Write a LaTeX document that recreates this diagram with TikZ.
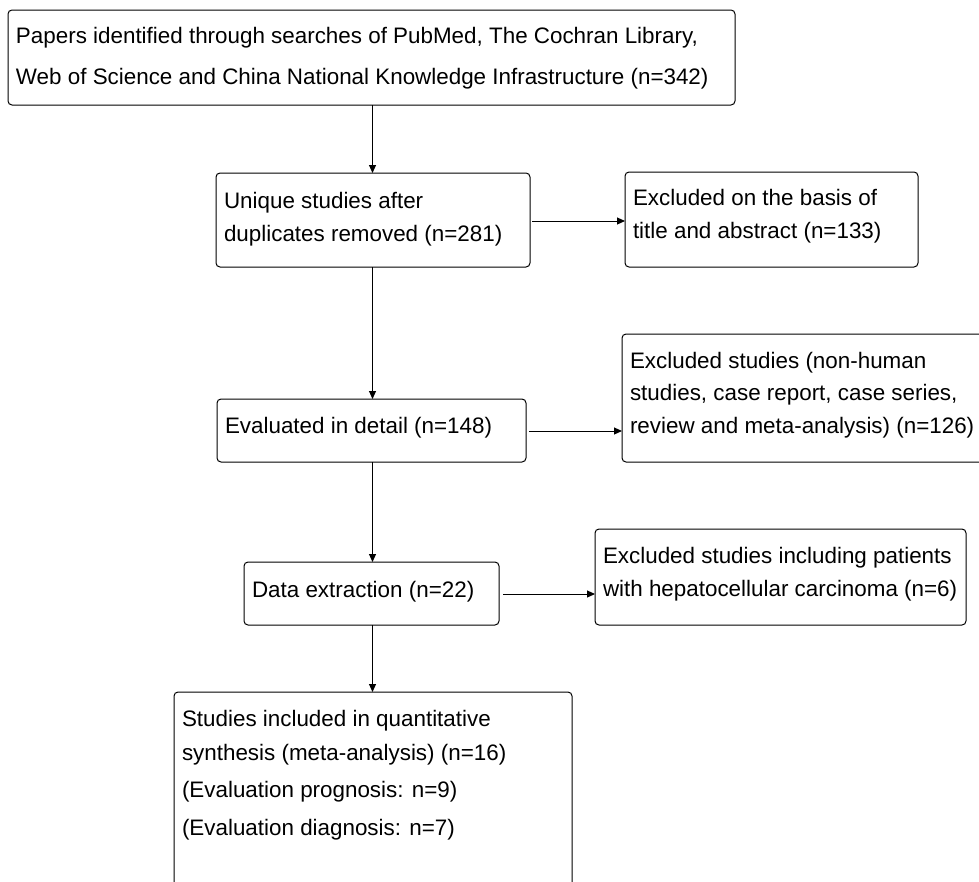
\documentclass[tikz,border=0pt]{standalone}
\usepackage{fontspec}
\setmainfont{Liberation Sans}
\usetikzlibrary{arrows.meta}
\begin{document}
\begin{tikzpicture}[x=1pt,y=-1pt,
  box/.style={draw=black, line width=1pt, rounded corners=4pt, inner sep=0pt, outer sep=0pt},
  txt/.style={anchor=north west, inner sep=0pt, outer sep=0pt, align=left,
              font=\fontsize{22.4}{33.5}\selectfont},
  arr/.style={-{Triangle[width=7pt,length=8pt]}, line width=1pt}]
\useasboundingbox (0,0) rectangle (979,881);
\clip (0,0) rectangle (979,881);
\fill[white] (0,0) rectangle (979,881);
% boxes
\node[box, minimum width=727pt, minimum height=95pt] (b1) at (371.5,57.5) {};
\node[box, minimum width=314pt, minimum height=94pt] (b2) at (373,220) {};
\node[box, minimum width=293pt, minimum height=95pt] (b3) at (771.5,219.5) {};
\node[box, minimum width=309pt, minimum height=63pt] (b4) at (371.5,430.5) {};
\node[box, minimum width=378pt, minimum height=128pt] (b5) at (811,398) {};
\node[box, minimum width=255pt, minimum height=63pt] (b6) at (371.5,593.5) {};
\node[box, minimum width=371pt, minimum height=96pt] (b7) at (780.5,577) {};
\node[box, minimum width=398pt, minimum height=228pt] (b8) at (373,806) {};
% texts
\node[txt] (t1) at (16,23) {\rule{0pt}{20pt}Papers identified through searches of PubMed, The Cochran Library,\\[7.5pt]Web of Science and China National Knowledge Infrastructure (n=342)};
\node[txt] (t2) at (224,188) {\rule{0pt}{20pt}Unique studies after\\duplicates removed (n=281)};
\node[txt] (t3) at (633,185) {\rule{0pt}{20pt}Excluded on the basis of\\title and abstract (n=133)};
\node[txt] (t4) at (225,413) {\rule{0pt}{20pt}Evaluated in detail (n=148)};
\node[txt] (t5) at (630,348) {\rule{0pt}{20pt}Excluded studies (non-human\\[-1pt]studies, case report, case series,\\[-1pt]review and meta-analysis) (n=126)};
\node[txt] (t6) at (252,577) {\rule{0pt}{20pt}Data extraction (n=22)};
\node[txt] (t7) at (603,543) {\rule{0pt}{20pt}Excluded studies including patients\\with hepatocellular carcinoma (n=6)};
\node[txt] (t8) at (182,706) {\rule{0pt}{20pt}Studies included in quantitative\\[0.5pt]synthesis (meta-analysis) (n=16)\\[3.5pt](Evaluation prognosis: n=9)\\[4.5pt](Evaluation diagnosis: n=7)};
% connectors
\coordinate (vx) at (372.5,0);
\coordinate (h1) at (0,221);
\coordinate (h2) at (0,431);
\coordinate (h3) at (0,594);
\draw[arr] (b1.south -| vx) -- (b2.north -| vx);
\draw[arr] (b2.south -| vx) -- (b4.north -| vx);
\draw[arr] (b4.south -| vx) -- (b6.north -| vx);
\draw[arr] (b6.south -| vx) -- (b8.north -| vx);
\draw[arr, shorten <=2pt] (b2.east |- h1) -- (b3.west |- h1);
\draw[arr, shorten <=3pt] (b4.east |- h2) -- (b5.west |- h2);
\draw[arr, shorten <=4pt] (b6.east |- h3) -- (b7.west |- h3);
\end{tikzpicture}
\end{document}
